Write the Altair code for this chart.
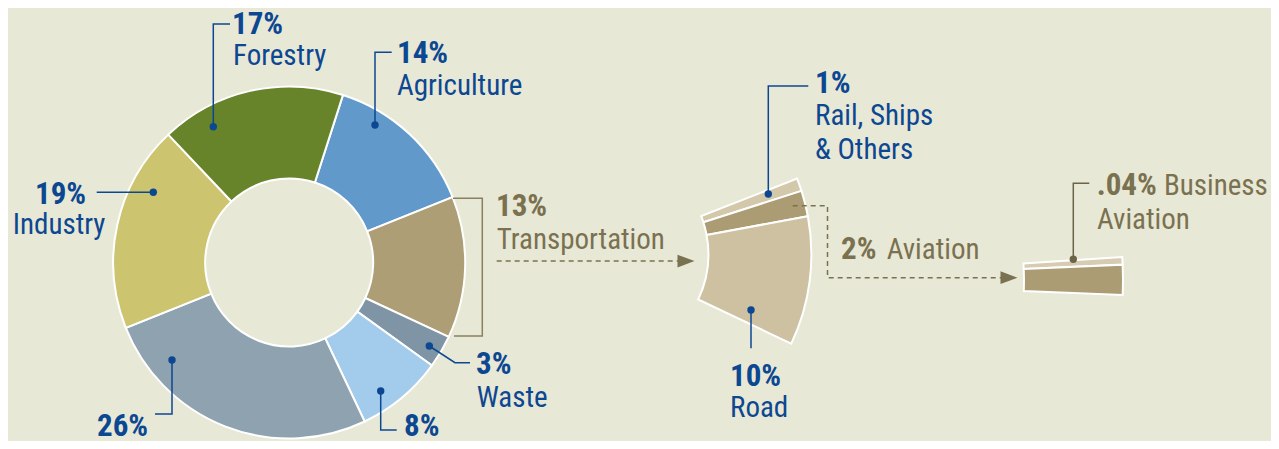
import math
from itertools import accumulate

import altair as alt
import pandas as pd

# ---------------- data ----------------
sectors = ["Agriculture", "Transportation", "Waste",
           "Residential & Commercial Buildings", "Energy Supply",
           "Industry", "Forestry"]
shares = [14, 13, 3, 8, 26, 19, 17]
sector_colors = ["#6299cb", "#ad9e76", "#7f94a4", "#a2cbec",
                 "#8fa2b0", "#cdc470", "#67842a"]

transport_modes = ["Rail, Ships & Others", "Aviation", "Road"]
transport_shares = [1, 2, 10]
transport_colors = ["#d4c8aa", "#ab9c74", "#cdc1a1"]

aviation_parts = ["Business Aviation", "Other Aviation"]
aviation_shares = [0.04, 1.96]
aviation_colors = ["#d7ccb2", "#ab9c74"]

# ---------------- style / layout ----------------
W, H = 1263, 433
BG = "#e8e8d6"
BLUE = "#0c4791"
TAN = "#7a7150"
TAN_LINE = "#8a7f62"
DARK = "#6b6446"
FONT = "Liberation Sans Narrow, Roboto Condensed, DejaVu Sans Condensed, sans-serif"
FS_BOLD = 31
FS_REG = 29
TWO_PI = 2 * math.pi
MIN_VISIBLE = 0.5  # smallest share drawn, so a sliver stays visible


def pct(v):
    s = f"{v:g}%"
    return s[1:] if s.startswith("0.") else s


def arc_layer(names, values, colors, cx, cy, r_out, r_in, dom, rng, display=None):
    disp = display if display is not None else values
    ends = list(accumulate(disp))
    starts = [e - d for e, d in zip(ends, disp)]
    df = pd.DataFrame({"name": names, "value": values, "start": starts, "end": ends})
    return alt.Chart(df).mark_arc(
        radius=r_out, radius2=r_in, stroke="white", strokeWidth=2
    ).encode(
        x=alt.value(cx), y=alt.value(cy),
        theta=alt.Theta("start:Q", scale=alt.Scale(domain=dom, range=rng, nice=False, zero=False)),
        theta2="end:Q",
        color=alt.Color("name:N", scale=alt.Scale(domain=names, range=colors), legend=None),
        tooltip=["name:N", "value:Q"],
    )


XP = dict(scale=None, axis=None)


def path_layer(paths, color, width=1.5, **extra):
    rows = []
    for pid, pts in enumerate(paths):
        for k, (x, y) in enumerate(pts):
            rows.append({"pid": pid, "k": k, "x": x, "y": y})
    return alt.Chart(pd.DataFrame(rows)).mark_line(
        color=color, strokeWidth=width, **extra
    ).encode(
        x=alt.X("x:Q", **XP), y=alt.Y("y:Q", **XP),
        detail="pid:N", order="k:Q",
    )


def dot_layer(points, color):
    df = pd.DataFrame(points, columns=["x", "y"])
    return alt.Chart(df).mark_circle(size=55, color=color, opacity=1).encode(
        x=alt.X("x:Q", **XP), y=alt.Y("y:Q", **XP))


def text_layer(items, color, weight, size):
    df = pd.DataFrame(items, columns=["text", "x", "y"])
    return alt.Chart(df).mark_text(
        align="left", baseline="alphabetic", font=FONT, fontSize=size,
        fontWeight=weight, color=color
    ).encode(x=alt.X("x:Q", **XP), y=alt.Y("y:Q", **XP), text="text:N")


# main donut (starts at 17.8 deg clockwise from top)
a0 = math.radians(17.8)
donut = arc_layer(sectors, shares, sector_colors, 281.2, 254.5, 176, 84,
                  [0, 100], [a0, a0 + TWO_PI])

# transportation wedge, same angular scale, rotated to point right
t_total = sum(transport_shares)
t0 = math.radians(92.05) - (t_total / 100) * TWO_PI / 2
transport = arc_layer(transport_modes, transport_shares, transport_colors,
                      595.4, 246.3, 208, 105, [0, 100], [t0, t0 + TWO_PI])

# aviation piece
av_display = [max(v, MIN_VISIBLE) for v in aviation_shares]
aviation = arc_layer(aviation_parts, aviation_shares, aviation_colors,
                     758, 272.6, 357, 258, [0, sum(av_display)],
                     [math.radians(86.2), math.radians(92.3)], display=av_display)

S = dict(zip(sectors, shares))
T = dict(zip(transport_modes, transport_shares))
A = dict(zip(aviation_parts, aviation_shares))

blue_paths = [
    [(205.3, 118.7), (205.3, 16), (222, 16)],
    [(367, 117), (367, 44.3), (383.7, 44.3)],
    [(145.3, 184.3), (88.7, 184.3)],
    [(164, 352), (164, 406), (147, 406)],
    [(421.3, 338), (447, 354.7), (462, 354.7)],
    [(372.7, 383), (372.7, 422), (388.7, 422)],
    [(760.3, 186), (760.3, 78), (800.3, 78)],
    [(743, 302), (743, 340.3)],
]
blue_dots = [p[0] for p in blue_paths]

bracket = [[(445, 190.3), (474.3, 190.3), (474.3, 328), (446, 328)]]
dashed = [
    [(488.7, 253), (672, 253)],
    [(784.7, 197.7), (819.5, 197.7), (819.5, 269.7), (994, 269.7)],
]
arrows = pd.DataFrame([(678, 253), (1001, 269.7)], columns=["x", "y"])
arrow_layer = alt.Chart(arrows).mark_point(
    shape="M-1,-0.75L1,0L-1,0.75Z", filled=True, size=289, color=TAN, opacity=1, strokeWidth=0
).encode(x=alt.X("x:Q", **XP), y=alt.Y("y:Q", **XP))

biz_path = [[(1065.3, 251.3), (1065.3, 175.3), (1081.3, 175.3)]]

blue_bold = [
    (pct(S["Forestry"]), 224, 26),
    (pct(S["Agriculture"]), 389, 55.3),
    (pct(S["Industry"]), 27, 196),
    (pct(S["Energy Supply"]), 89, 428),
    (pct(S["Waste"]), 468, 366.3),
    (pct(S["Residential & Commercial Buildings"]), 396, 428),
    (pct(T["Rail, Ships & Others"]), 807, 85.3),
    (pct(T["Road"]), 722, 378),
]
blue_reg = [
    ("Forestry", 225, 56.5),
    ("Agriculture", 389, 87),
    ("Industry", 4.7, 226),
    ("Waste", 468.7, 398.7),
    ("Rail, Ships", 807, 117),
    ("& Others", 807, 151.3),
    ("Road", 722, 408.7),
]
tan_bold = [
    (pct(S["Transportation"]), 488, 207.7),
    (pct(T["Aviation"]), 833, 251.3),
    (pct(A["Business Aviation"]), 1088.7, 187),
]
tan_reg = [
    ("Transportation", 488.7, 241.3),
    ("Aviation", 878.7, 251.3),
    ("Business", 1156, 187),
    ("Aviation", 1089, 221.3),
]

layers = [
    donut, transport, aviation,
    path_layer(bracket, TAN_LINE, width=1.5),
    path_layer(dashed, TAN, width=1.5, strokeDash=[5, 4]),
    arrow_layer,
    path_layer(blue_paths, BLUE, width=1.5),
    dot_layer(blue_dots, BLUE),
    path_layer(biz_path, DARK, width=1.5),
    dot_layer([biz_path[0][0]], DARK),
    text_layer(blue_bold, BLUE, "bold", FS_BOLD),
    text_layer(blue_reg, BLUE, "normal", FS_REG),
    text_layer(tan_bold, TAN, "bold", FS_BOLD),
    text_layer(tan_reg, TAN, "normal", FS_REG),
]

chart = alt.layer(*layers).resolve_scale(
    theta="independent", color="independent"
).properties(
    width=W, height=H, background=BG, padding=0,
    autosize=alt.AutoSizeParams(type="fit", contains="padding"),
).configure_view(strokeWidth=0)

chart.save("out.html", embed_options={"renderer": "svg", "actions": False})
